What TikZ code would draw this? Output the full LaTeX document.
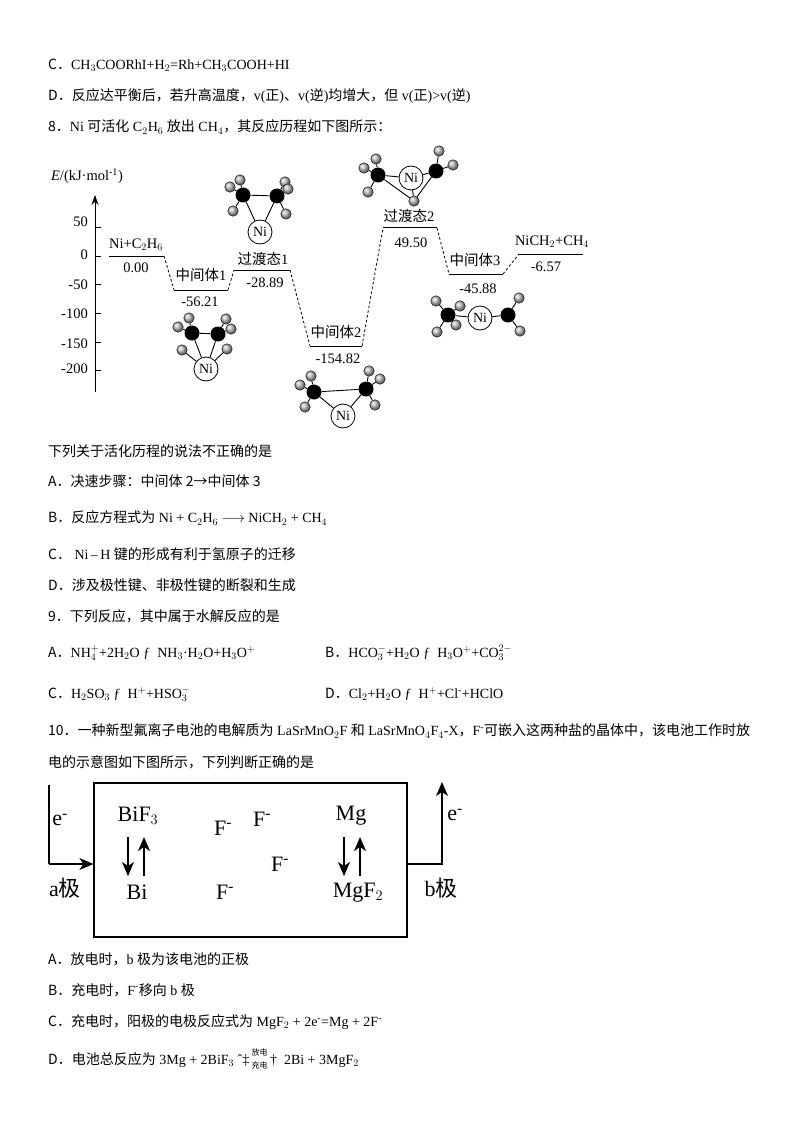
\documentclass[tikz,border=0pt]{standalone}
\usepackage{fontspec}
\setmainfont{Liberation Serif}
\newfontfamily\cjk{Noto Sans CJK SC}
\usepackage{tikz}
\usetikzlibrary{arrows.meta}
\usetikzlibrary{positioning}

\newcommand{\zh}[1]{{\cjk #1}}
\newcommand{\minus}{\textsuperscript{-}}

\tikzset{
  linetext/.style={anchor=west,inner sep=0pt,yshift=-1pt,font=\fontsize{14}{15}\selectfont},
  chartlabel/.style={inner sep=0pt,font=\fontsize{14.5}{16}\selectfont},
  level/.style={line width=1pt},
  dashlink/.style={line width=.8pt,dash pattern=on 2.6pt off 2.2pt},
  catom/.style={circle,fill=black,inner sep=0pt,minimum size=15pt},
  hatom/.style={circle,draw=black,ball color=black!25,inner sep=0pt,minimum size=10.5pt},
  niatom/.style={circle,draw,thick,fill=white,inner sep=0pt,minimum size=24pt,font=\fontsize{14}{15}\selectfont},
  bond/.style={line width=.9pt},
  celltext/.style={inner sep=0pt,font=\fontsize{22}{24}\selectfont},
  wire/.style={line width=1.2pt},
  flow/.style={line width=1.2pt,-{Stealth[length=14pt,width=12pt,inset=4pt]}}
}

\begin{document}
\begin{tikzpicture}[x=1pt,y=-1pt]
  \useasboundingbox (0,0) rectangle (794,1123);
  \fill[white] (0,0) rectangle (794,1123);

  % page text
  \node[linetext] (q7c) at (48,64) {\zh{C．}CH$_3$COORhI+H$_2$=Rh+CH$_3$COOH+HI};
  \node[linetext] (q7d) at (48,95) {\zh{D．反应达平衡后，若升高温度，}v(\zh{正})\zh{、}v(\zh{逆})\zh{均增大，但} v(\zh{正})>v(\zh{逆})};
  \node[linetext] (q8) at (48,126) {\zh{8．}Ni \zh{可活化} C$_2$H$_6$ \zh{放出} CH$_4$\zh{，其反应历程如下图所示：}};
  \node[linetext] (q8ask) at (48,450) {\zh{下列关于活化历程的说法不正确的是}};
  \node[linetext] (q8a) at (48,480) {\zh{A．决速步骤：中间体 2→中间体 3}};
  \node[linetext] (q8b) at (48,517) {\zh{B．反应方程式为} Ni + C$_2$H$_6$ $\longrightarrow$ NiCH$_2$ + CH$_4$};
  \node[linetext] (q8c) at (48,553) {\zh{C．} Ni\,--\,H \zh{键的形成有利于氢原子的迁移}};
  \node[linetext] (q8d) at (48,584) {\zh{D．涉及极性键、非极性键的断裂和生成}};
  \node[linetext] (q9) at (48,615) {\zh{9．下列反应，其中属于水解反应的是}};
  \node[linetext] (q9a) at (48,652) {\zh{A．}NH$_4^+$+2H$_2$O ƒ\ \ NH$_3$·H$_2$O+H$_3$O$^+$};
  \node[linetext] (q9b) at (325,652) {\zh{B．}HCO$_3^-$+H$_2$O ƒ\ \ H$_3$O$^+$+CO$_3^{2-}$};
  \node[linetext] (q9c) at (48,693) {\zh{C．}H$_2$SO$_3$ ƒ\ \ H$^+$+HSO$_3^-$};
  \node[linetext] (q9d) at (325,693) {\zh{D．}Cl$_2$+H$_2$O ƒ\ \ H$^+$+Cl\minus+HClO};
  \node[linetext] (q10) at (48,730) {\zh{10．一种新型氟离子电池的电解质为} LaSrMnO$_2$F \zh{和} LaSrMnO$_4$F$_4$-X\zh{，}F\minus\zh{可嵌入这两种盐的晶体中，该电池工作时放}};
  \node[linetext] (q10b) at (48,761) {\zh{电的示意图如下图所示，下列判断正确的是}};
  \node[linetext] (q10a) at (48,958) {\zh{A．放电时，}b \zh{极为该电池的正极}};
  \node[linetext] (q10bb) at (48,989) {\zh{B．充电时，}F\minus\zh{移向} b \zh{极}};
  \node[linetext] (q10c) at (48,1021) {\zh{C．充电时，阳极的电极反应式为} MgF$_2$ + 2e\minus=Mg + 2F\minus};
  \node[linetext] (q10d) at (48,1058) {\zh{D．电池总反应为} 3Mg + 2BiF$_3$ ˆ‡\,\raisebox{-4pt}{\shortstack{\fontsize{8}{8}\selectfont\zh{放电}\\[2pt]\fontsize{8}{8}\selectfont\zh{充电}}}\,†\ \ 2Bi + 3MgF$_2$};

  % energy axis
  \coordinate (axisbot) at (95,392);
  \coordinate (axistop) at (95,195);
  \draw[line width=.8pt,-{Stealth[length=10pt,width=7pt]}] (axisbot) -- (axistop);
  \node[chartlabel] (elabel) at (87,176) {\textit{E}/(kJ·mol\textsuperscript{-1})};
  \foreach \val/\ylab/\ypos in {50/222/227,0/255/256,-50/285/284,-100/314/313,-150/344/342,-200/369/370} {
    \node[chartlabel,anchor=east] (tick\ypos) at (88,\ylab) {\val};
    \draw[line width=.8pt] (95,\ypos) -- (101,\ypos);
  }

  % levels
  \draw[level] (109,256) coordinate (l0a) -- (164,256) coordinate (l0b);
  \draw[level] (174,290) coordinate (i1a) -- (228,290) coordinate (i1b);
  \draw[level] (234,270) coordinate (t1a) -- (290,270) coordinate (t1b);
  \draw[level] (310,346) coordinate (i2a) -- (362,346) coordinate (i2b);
  \draw[level] (383,228) coordinate (t2a) -- (437,228) coordinate (t2b);
  \draw[level] (449,274) coordinate (i3a) -- (503,274) coordinate (i3b);
  \draw[level] (519,254) coordinate (pra) -- (583,254) coordinate (prb);
  \draw[dashlink] (l0b) -- (i1a);
  \draw[dashlink] (i1b) -- (t1a);
  \draw[dashlink] (t1b) -- (i2a);
  \draw[dashlink] (i2b) -- (t2a);
  \draw[dashlink] (t2b) -- (i3a);
  \draw[dashlink] (i3b) -- (pra);

  \node[chartlabel] (l0name) at (136,245) {Ni+C$_2$H$_6$};
  \node[chartlabel] (l0val) at (136,268) {0.00};
  \node[chartlabel] (i1name) at (201,275) {\zh{中间体}1};
  \node[chartlabel] (i1val) at (200,302) {-56.21};
  \node[chartlabel] (t1name) at (263,259) {\zh{过渡态}1};
  \node[chartlabel] (t1val) at (265,283) {-28.89};
  \node[chartlabel] (i2name) at (336,332) {\zh{中间体}2};
  \node[chartlabel] (i2val) at (338,359) {-154.82};
  \node[chartlabel] (t2name) at (409,216) {\zh{过渡态}2};
  \node[chartlabel] (t2val) at (411,243) {49.50};
  \node[chartlabel] (i3name) at (475,260) {\zh{中间体}3};
  \node[chartlabel] (i3val) at (478,289) {-45.88};
  \node[chartlabel] (prname) at (552,242) {NiCH$_2$+CH$_4$};
  \node[chartlabel] (prval) at (546,267) {-6.57};

  % molecules
  \node[catom] (ac1) at (192,333) {};
  \node[catom] (ac2) at (218,334) {};
  \node[niatom] (ani) at (206,369) {Ni};
  \node[hatom] (ah1) at (189,318) {};
  \node[hatom] (ah2) at (178,327) {};
  \node[hatom] (ah3) at (182,350) {};
  \node[hatom] (ah4) at (226,319) {};
  \node[hatom] (ah5) at (231,329) {};
  \node[hatom] (ah6) at (227,349) {};
  \foreach \from/\to in {ac1/ac2,ac1/ani,ac2/ani,ac1/ah1,ac1/ah2,ah3/ani,ah6/ani,ac2/ah4,ac2/ah5}
    \draw[bond] (\from) -- (\to);

  \node[catom] (bc1) at (243,195) {};
  \node[catom] (bc2) at (277,196) {};
  \node[niatom] (bni) at (260,232) {Ni};
  \node[hatom] (bh1) at (240,180) {};
  \node[hatom] (bh2) at (230,187) {};
  \node[hatom] (bh3) at (233,211) {};
  \node[hatom] (bh4) at (285,182) {};
  \node[hatom] (bh5) at (288,189) {};
  \node[hatom] (bh6) at (286,214) {};
  \foreach \from/\to in {bc1/bc2,bc1/bni,bc2/bni,bc1/bh1,bc1/bh2,bc1/bh3,bc2/bh4,bc2/bh5,bc2/bh6}
    \draw[bond] (\from) -- (\to);

  \node[catom] (cc1) at (314,392) {};
  \node[catom] (cc2) at (366,389) {};
  \node[niatom] (cni) at (343,416) {Ni};
  \node[hatom] (ch1) at (311,376) {};
  \node[hatom] (ch2) at (300,385) {};
  \node[hatom] (ch3) at (305,407) {};
  \node[hatom] (ch4) at (369,371) {};
  \node[hatom] (ch5) at (380,379) {};
  \node[hatom] (ch6) at (375,405) {};
  \foreach \from/\to in {cc1/cc2,cc1/cni,cc2/cni,cc1/ch1,cc1/ch2,cc1/ch3,cc2/ch4,cc2/ch5,cc2/ch6}
    \draw[bond] (\from) -- (\to);

  \node[catom] (dc1) at (378,175) {};
  \node[catom] (dc2) at (436,171) {};
  \node[niatom] (dni) at (411,178) {Ni};
  \node[hatom] (dh1) at (376,159) {};
  \node[hatom] (dh2) at (364,168) {};
  \node[hatom] (dh3) at (368,192) {};
  \node[hatom] (dh4) at (439,151) {};
  \node[hatom] (dh5) at (453,165) {};
  \node[hatom] (dh6) at (414,201) {};
  \foreach \from/\to in {dc1/dni,dc2/dni,dc1/dh6,dc2/dh6,dni/dh6,dc1/dh1,dc1/dh2,dc1/dh3,dc2/dh4,dc2/dh5}
    \draw[bond] (\from) -- (\to);

  \node[catom] (ec1) at (448,315) {};
  \node[catom] (ec2) at (508,315) {};
  \node[niatom] (eni) at (480,318) {Ni};
  \node[hatom] (eh1) at (436,301) {};
  \node[hatom] (eh2) at (460,306) {};
  \node[hatom] (eh3) at (456,325) {};
  \node[hatom] (eh4) at (437,332) {};
  \node[hatom] (eh5) at (519,298) {};
  \node[hatom] (eh6) at (520,331) {};
  \foreach \from/\to in {ec1/eni,ec2/eni,ec1/eh1,ec1/eh2,ec1/eh3,ec1/eh4,ec2/eh5,ec2/eh6}
    \draw[bond] (\from) -- (\to);

  % battery
  \node[draw,line width=1.2pt,minimum width=313pt,minimum height=154pt,inner sep=0pt] (cell) at (250.5,860) {};
  \coordinate (awire) at (49,785);
  \coordinate (acorner) at (49,864);
  \coordinate (bcorner) at (442,864);
  \coordinate (bwire) at (442,782);
  \draw[wire] (awire) -- (acorner);
  \draw[flow] (acorner) -- (acorner -| cell.west);
  \draw[flow] (bcorner -| cell.east) -- (bcorner) -- (bwire);
  \node[celltext] (ae) at (60,820) {e\minus};
  \node[celltext] (be) at (455,815) {e\minus};
  \node[celltext] (apole) at (65,888) {a\zh{极}};
  \node[celltext] (bpole) at (441,888) {b\zh{极}};
  \node[celltext] (bif) at (138,816) {BiF$_3$};
  \node[celltext] (bi) at (137,892) {Bi};
  \node[celltext] (mg) at (351,816) {Mg};
  \node[celltext] (mgf) at (358,893) {MgF$_2$};
  \node[celltext] (fa) at (223,828) {F\minus};
  \node[celltext] (fb) at (262,819) {F\minus};
  \node[celltext] (fc) at (280,864) {F\minus};
  \node[celltext] (fd) at (225,892) {F\minus};
  \coordinate (biup) at (128,837);
  \coordinate (bidn) at (128,876);
  \coordinate (mgup) at (344,837);
  \coordinate (mgdn) at (344,876);
  \draw[flow] (biup) -- (bidn);
  \draw[flow] ([xshift=16pt]bidn) -- ([xshift=16pt]biup);
  \draw[flow] (mgup) -- (mgdn);
  \draw[flow] ([xshift=16pt]mgdn) -- ([xshift=16pt]mgup);
\end{tikzpicture}
\end{document}
